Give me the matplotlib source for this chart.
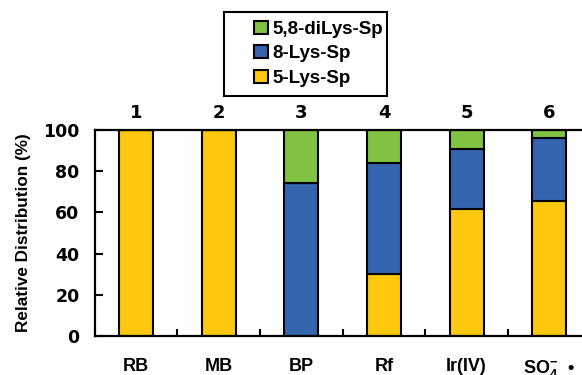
import numpy as np
import matplotlib
matplotlib.use("Agg")
import matplotlib.pyplot as plt
from matplotlib.patches import Patch, Rectangle

plt.rcParams['font.family'] = ['Liberation Sans', 'DejaVu Sans']
plt.rcParams['mathtext.fontset'] = 'custom'
plt.rcParams['mathtext.rm'] = 'Liberation Sans:bold'
plt.rcParams['mathtext.it'] = 'Liberation Sans:bold'
plt.rcParams['mathtext.bf'] = 'Liberation Sans:bold'

# 데이터
categories = ['RB', 'MB', 'BP', 'Rf', 'Ir(IV)', r'SO$_4^{-}$  •']
numbers = ['1', '2', '3', '4', '5', '6']
lys5 = [100, 100, 0, 30, 61.5, 65.5]
lys8 = [0, 0, 74.5, 54, 29.5, 30.5]
dilys = [0, 0, 25.5, 16, 9, 4]

yellow = '#FDC80D'
blue = '#3465AE'
green = '#80C342'

fig = plt.figure(figsize=(5.82, 3.75), dpi=100)
ax = fig.add_axes([0.1627, 0.104, 0.852, 0.549])

x = np.arange(len(categories))
w = 0.41
ax.bar(x, lys5, w, color=yellow, edgecolor='black', linewidth=1.5)
ax.bar(x, lys8, w, bottom=lys5, color=blue, edgecolor='black', linewidth=1.5)
bottom2 = np.array(lys5) + np.array(lys8)
ax.bar(x, dilys, w, bottom=bottom2, color=green, edgecolor='black', linewidth=1.5)

ax.set_xlim(-0.5, 5.5)
ax.set_ylim(0, 100)

# 축 눈금
ax.set_xticks(x)
ax.set_xticklabels(categories, fontsize=13, fontweight='bold')
ax.tick_params(axis='x', which='major', length=0, pad=15.5)
ax.set_xticks(x[:-1] + 0.5, minor=True)
ax.tick_params(axis='x', which='minor', direction='in', length=5, width=1.5)

ax.set_yticks([0, 20, 40, 60, 80, 100])
ax.set_yticklabels(['0', '20', '40', '60', '80', '100'], fontsize=12.5,
                   fontweight='bold', family='DejaVu Sans')
ax.tick_params(axis='y', direction='in', length=6, width=1.5, pad=11)

for s in ax.spines.values():
    s.set_linewidth(1.6)

ax.set_ylabel('Relative Distribution (%)', fontsize=12.3, fontweight='bold', labelpad=9)

# 위쪽 번호
for xi, n in zip(x, numbers):
    ax.text(xi, 104, n, ha='center', va='bottom', fontsize=13,
            fontweight='bold', family='DejaVu Sans')

# 범례
handles = [Patch(facecolor=green, edgecolor='black', linewidth=1.5),
           Patch(facecolor=blue, edgecolor='black', linewidth=1.5),
           Patch(facecolor=yellow, edgecolor='black', linewidth=1.5)]
labels = ['5,8-diLys-Sp', '8-Lys-Sp', '5-Lys-Sp']
leg = fig.legend(handles, labels, loc='upper left', bbox_to_anchor=(254 / 582, 1 - 21 / 375),
                 frameon=False, prop={'size': 13.5, 'weight': 'bold'},
                 handlelength=0.72, handleheight=0.7, handletextpad=0.25,
                 labelspacing=0.38, borderpad=0.0, borderaxespad=0.0)
fig.patches.append(Rectangle((224 / 582, 1 - 96 / 375), 163 / 582, 84 / 375,
                             transform=fig.transFigure, fill=False,
                             edgecolor='black', linewidth=1.5))

fig.savefig('out.png', dpi=100)
